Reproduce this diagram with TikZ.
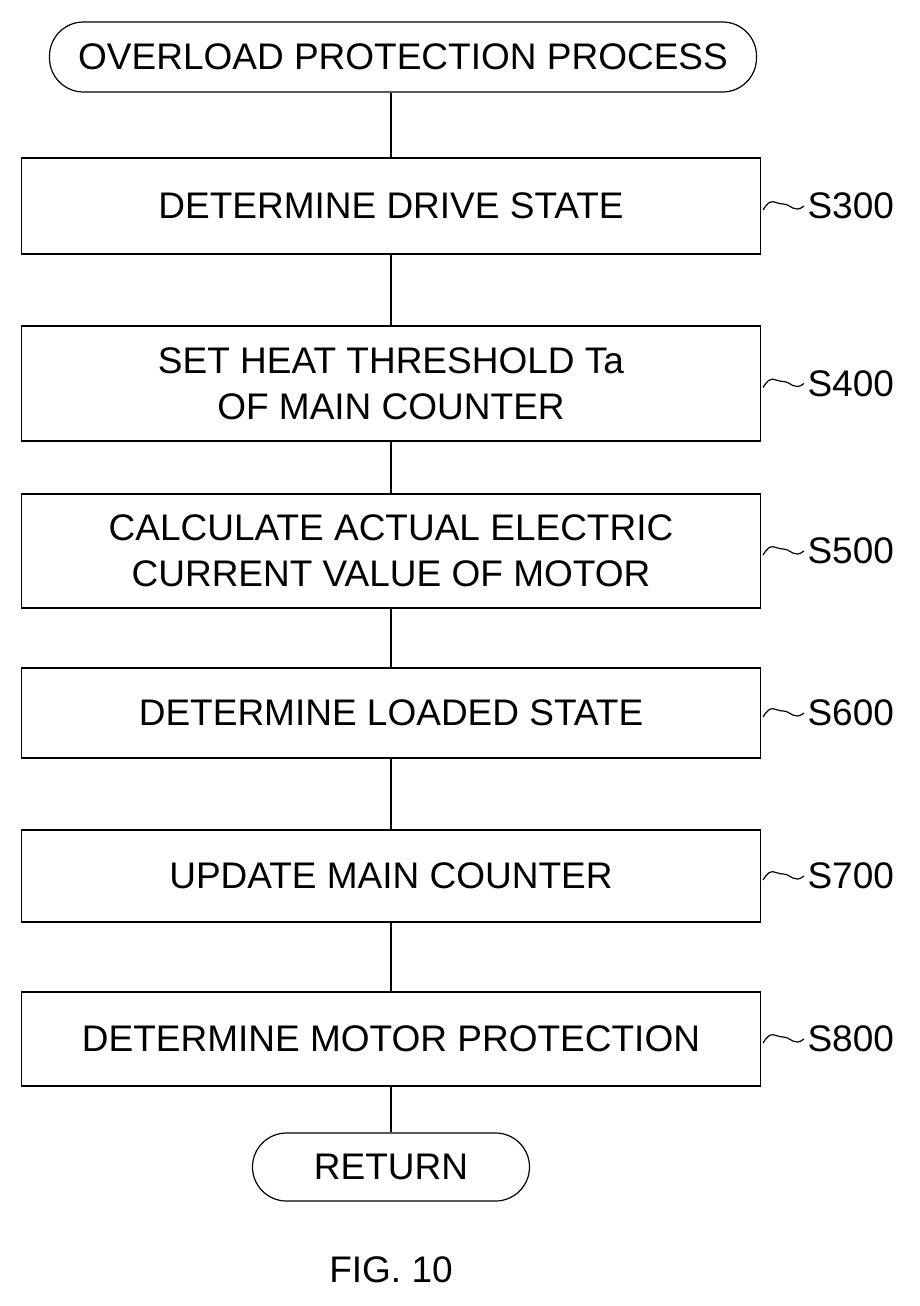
\documentclass[tikz,border=0pt]{standalone}
\usepackage{fontspec}
\setmainfont{Liberation Sans}
\begin{document}
\begin{tikzpicture}[x=1pt,y=-1pt,
  box/.style={draw,line width=1.2pt,minimum width=739pt,inner sep=0pt,align=center,font=\fontsize{37}{46}\selectfont},
  term/.style={draw,line width=1.2pt,rounded corners=34pt,inner sep=0pt,font=\fontsize{37}{46}\selectfont},
  lab/.style={font=\fontsize{37}{40}\selectfont,anchor=west},
  ln/.style={line width=1.2pt}]
\useasboundingbox (0,0) rectangle (919,1306);
\node[term,minimum width=707pt,minimum height=70pt] (st) at (403,57) {OVERLOAD PROTECTION PROCESS};
\node[box,minimum height=96pt] (b3) at (391,206) {DETERMINE DRIVE STATE};
\node[box,minimum height=115pt] (b4) at (391,383.5) {SET HEAT THRESHOLD Ta\\OF MAIN COUNTER};
\node[box,minimum height=114pt] (b5) at (391,551) {CALCULATE ACTUAL ELECTRIC\\CURRENT VALUE OF MOTOR};
\node[box,minimum height=90pt] (b6) at (391,713) {DETERMINE LOADED STATE};
\node[box,minimum height=92pt] (b7) at (391,876) {UPDATE MAIN COUNTER};
\node[box,minimum height=94pt] (b8) at (391,1039) {DETERMINE MOTOR PROTECTION};
\node[term,minimum width=277pt,minimum height=68pt] (rt) at (391,1167) {RETURN};
\node[font=\fontsize{37}{40}\selectfont] (fig) at (391,1270) {FIG. 10};
\draw[ln] (st.south -| b3.north) -- (b3.north);
\draw[ln] (b3) -- (b4);
\draw[ln] (b4) -- (b5);
\draw[ln] (b5) -- (b6);
\draw[ln] (b6) -- (b7);
\draw[ln] (b7) -- (b8);
\draw[ln] (b8) -- (rt);
\foreach \n/\t/\y in {b3/S300/206,b4/S400/383.5,b5/S500/551,b6/S600/713,b7/S700/876,b8/S800/1039}{
  \node[lab] (l\n) at (804,\y) {\t};
  \draw[ln] (\n.east) ++(2,4) .. controls +(8,-14) and +(-8,0) .. ++(20,-6) .. controls +(8,0) and +(-10,8) .. (l\n.west);
}
\end{tikzpicture}
\end{document}
